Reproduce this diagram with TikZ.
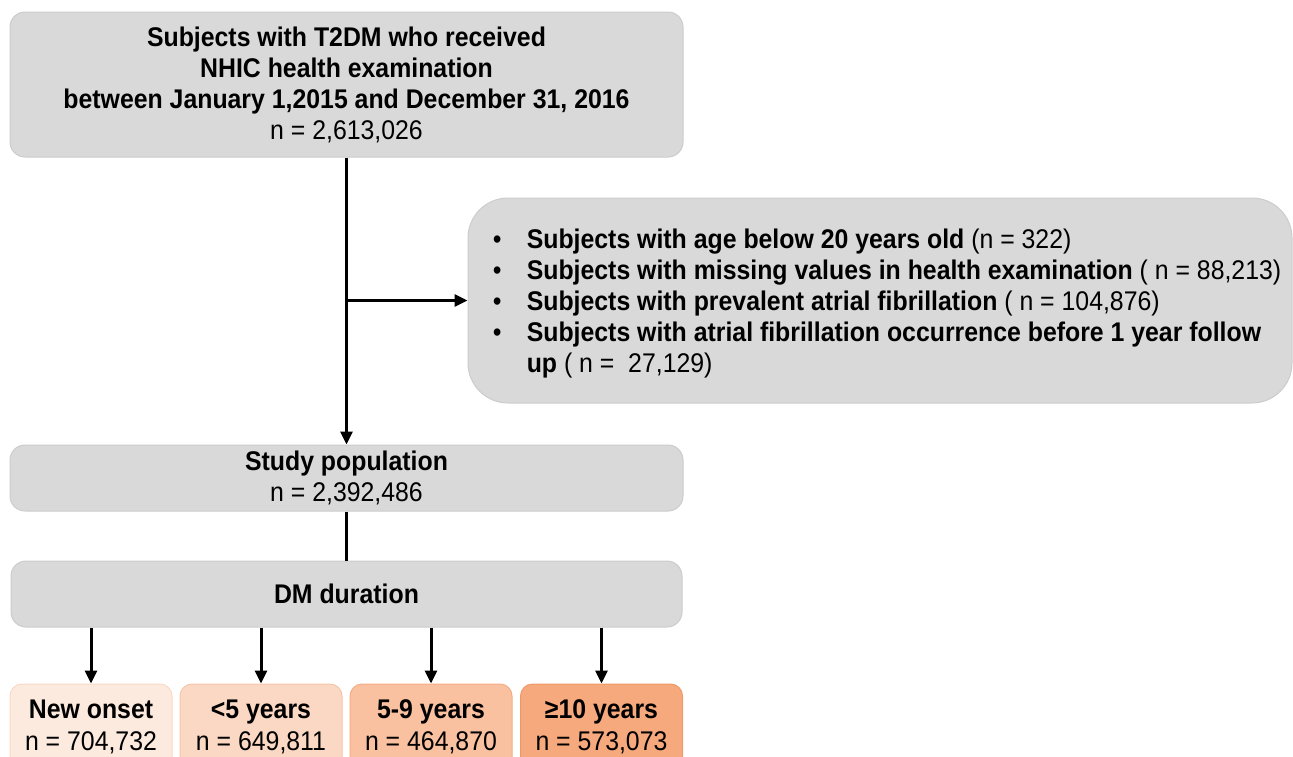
\documentclass[tikz,border=0pt]{standalone}
\usepackage{fontspec}
\setmainfont{Liberation Sans}[FakeStretch=0.92]
\usetikzlibrary{arrows.meta}
\definecolor{boxgray}{HTML}{D9D9D9}
\definecolor{edgegray}{HTML}{CCCCCC}
\definecolor{orA}{HTML}{FDEADF}
\definecolor{orB}{HTML}{FBD8C3}
\definecolor{orC}{HTML}{F9C19F}
\definecolor{orD}{HTML}{F5A97C}
\definecolor{edA}{HTML}{F9D9C6}
\definecolor{edB}{HTML}{F6C6A8}
\definecolor{edC}{HTML}{F3AE84}
\definecolor{edD}{HTML}{EF9966}
\tikzset{
  graybox/.style={draw=edgegray, line width=1pt, fill=boxgray, rounded corners=15pt,
    inner sep=0pt, align=center, font=\fontsize{27}{31}\selectfont},
  orbox/.style={line width=1pt, rounded corners=12pt, inner sep=0pt, align=center,
    minimum width=162pt, minimum height=86pt, font=\fontsize{27}{32}\selectfont},
  arr/.style={line width=3pt, -{Triangle[length=13pt,width=12pt]}},
  plain/.style={line width=3pt}
}
\newcommand{\bul}{\hspace*{14pt}\makebox[34pt][l]{\textbullet}}
\begin{document}
\begin{tikzpicture}[x=1pt,y=-1pt]
\useasboundingbox (0,0) rectangle (1293,756);
\clip (0,0) rectangle (1293,756);
\node[graybox, minimum width=673pt, minimum height=145pt] (top) at (346.5,84.5)
  {\textbf{Subjects with T2DM who received}\\
   \textbf{NHIC health examination}\\
   \textbf{between January 1,2015 and December 31, 2016}\\
   n = 2,613,026};
\node[graybox, rounded corners=40pt, minimum width=824pt, minimum height=205pt,
  align=left] (excl) at (880,300.5)
  {\rule{0pt}{26pt}\bul\textbf{Subjects with age below 20 years old} (n = 322)\\
   \bul\textbf{Subjects with missing values in health examination} ( n = 88,213)\\
   \bul\textbf{Subjects with prevalent atrial fibrillation} ( n = 104,876)\\
   \bul\textbf{Subjects with atrial fibrillation occurrence before 1 year follow}\\
   \hspace*{48pt}\textbf{up} ( n =\ \ 27,129)};
\node[graybox, minimum width=673pt, minimum height=66pt] (study) at (346.5,478)
  {\textbf{Study population}\\ n = 2,392,486};
\node[graybox, minimum width=671pt, minimum height=66pt] (dm) at (346.5,594)
  {\textbf{DM duration}};
\node[orbox, fill=orA, draw=edA] (b1) at (91,727)
  {\textbf{New onset}\\ n = 704,732};
\node[orbox, fill=orB, draw=edB] (b2) at (261,727)
  {\textbf{<5 years}\\ n = 649,811};
\node[orbox, fill=orC, draw=edC] (b3) at (431,727)
  {\textbf{5-9 years}\\ n = 464,870};
\node[orbox, fill=orD, draw=edD] (b4) at (601.5,727)
  {\textbf{≥10 years}\\ n = 573,073};
\coordinate (br) at (347,300.5);
\draw[arr] (top.south) -- (study.north);
\draw[arr] (br) -- (excl.west);
\draw[plain] (study.south) -- (dm.north);
\foreach \b in {b1,b2,b3,b4} {
  \draw[arr] (dm.south -| \b.north) -- (\b.north);
}
\end{tikzpicture}
\end{document}
